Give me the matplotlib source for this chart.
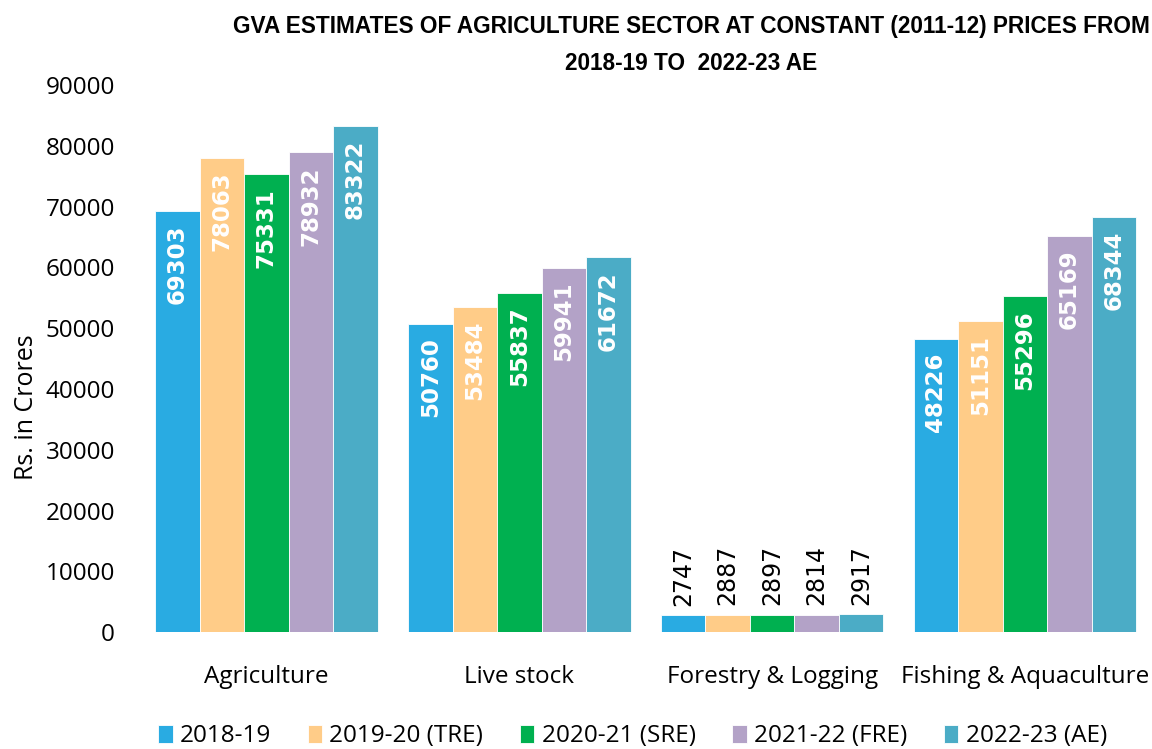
import matplotlib.pyplot as plt
import numpy as np
from matplotlib import font_manager

sectors = ["Agriculture", "Live stock", "Forestry & Logging", "Fishing & Aquaculture"]
years = ["2018-19", "2019-20 (TRE)", "2020-21 (SRE)", "2021-22 (FRE)", "2022-23 (AE)"]
gva = {
    "2018-19": [69303, 50760, 2747, 48226],
    "2019-20 (TRE)": [78063, 53484, 2887, 51151],
    "2020-21 (SRE)": [75331, 55837, 2897, 55296],
    "2021-22 (FRE)": [78932, 59941, 2814, 65169],
    "2022-23 (AE)": [83322, 61672, 2917, 68344],
}
colors = ["#29ABE2", "#FFCC88", "#00B050", "#B3A2C7", "#4BACC6"]

names = {f.name for f in font_manager.fontManager.ttflist}
text_font = "Open Sans" if "Open Sans" in names else "DejaVu Sans"

fig = plt.figure(figsize=(11.52, 7.49), dpi=100)
ax = fig.add_axes([0.1215, 0.156, 0.878, 0.7305])

x = np.arange(len(sectors))
w = 0.176
for i, yr in enumerate(years):
    pos = x + (i - 2) * w
    bars = ax.bar(pos, gva[yr], width=w, color=colors[i], label=yr,
                  edgecolor="white", linewidth=0.6)
    for b, v in zip(bars, gva[yr]):
        cx = b.get_x() + b.get_width() / 2
        if v > 10000:
            ax.annotate(str(v), (cx, v), xytext=(0, -10), textcoords="offset points",
                        rotation=90, ha="center", va="top", color="white",
                        fontsize=16.5, fontweight="bold", family="DejaVu Sans")
        else:
            ax.annotate(str(v), (cx, v), xytext=(0, 7), textcoords="offset points",
                        rotation=90, ha="center", va="bottom", color="black",
                        fontsize=17, family="DejaVu Sans")

ax.set_xlim(-0.5, 3.5)
ax.set_ylim(0, 90000)
ax.set_yticks(np.arange(0, 90001, 10000))
ax.set_xticks(x)
ax.set_xticklabels(sectors, fontsize=17.5, family=text_font)
for lab in ax.get_yticklabels():
    lab.set_fontsize(17.5)
    lab.set_family(text_font)
ax.tick_params(length=0)
ax.tick_params(axis="y", pad=18)
ax.tick_params(axis="x", pad=24)
for s in ax.spines.values():
    s.set_visible(False)
ax.set_ylabel("Rs. in Crores", fontsize=18, family=text_font)
ax.yaxis.set_label_coords(-0.1, 0.411)

fig.text(0.6, 0.964, "GVA ESTIMATES OF AGRICULTURE SECTOR AT CONSTANT (2011-12) PRICES FROM",
         ha="center", va="center", fontsize=16.3, fontweight="bold", family="Liberation Sans")
fig.text(0.6, 0.915, "2018-19 TO  2022-23 AE",
         ha="center", va="center", fontsize=16.3, fontweight="bold", family="Liberation Sans")

fig.legend(loc="center", bbox_to_anchor=(0.549, 0.017), ncol=5, frameon=False,
           prop={"family": text_font, "size": 17.5}, handlelength=0.6, handleheight=0.8,
           handletextpad=0.3, columnspacing=1.5)

fig.savefig("out.png", dpi=100)
